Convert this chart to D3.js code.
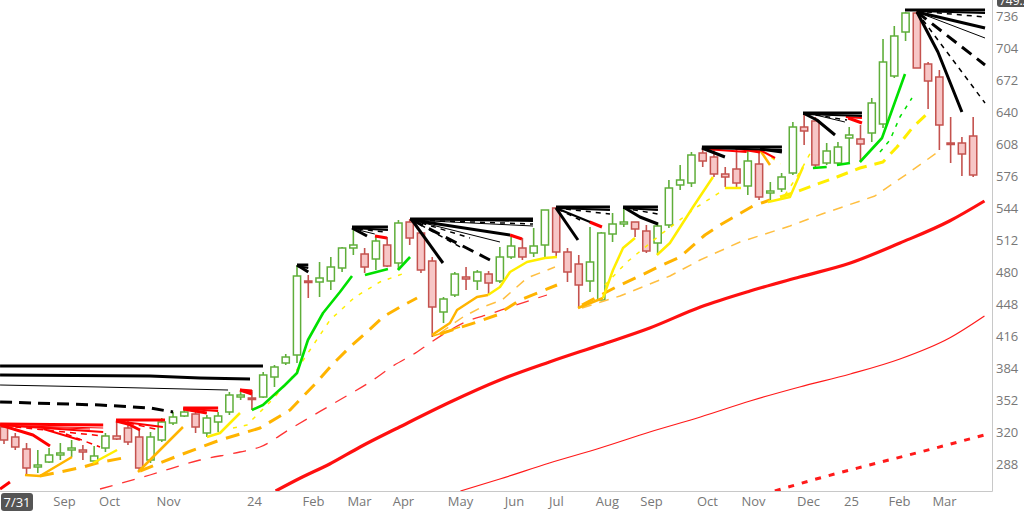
<!DOCTYPE html>
<html><head><meta charset="utf-8">
<script src="https://cdn.jsdelivr.net/npm/d3@7"></script>
<style>body{margin:0;background:#fff;} svg{display:block;font-family:"Open Sans",sans-serif;}</style>
</head><body><svg id="c" width="1024" height="514"></svg>
<script>
// Weekly candles, first week 2023-07-31 (index 0)
const openP  = [325,315,303,285,290,297,302,302,291,304, 316,324,315,292,312,329,336,338,319,330, 340,355,354,355,375,389,397,471,470,471, 484,504,498,493,507,489,530,519,491,440, 457,475,471,478,471,495,504,499,507,544, 500,488,471,452,518,528,530,521,509,527, 567,569,599,595,578,583,566,588,559,563, 579,625,631,589,589,614,613,619,628,676, 720,739,688,675,609,609,616];
const highP  = [328,319,309,302,304,309,312,307,306,319, 332,332,322,320,334,340,344,342,337,340, 360,360,362,380,387,398,487,477,490,495, 505,525,504,515,515,532,533,520,495,455, 480,485,482,481,505,515,514,524,542,545, 504,497,525,520,539,545,530,527,529,572, 587,600,605,602,585,604,602,602,570,579, 630,639,635,609,610,625,627,654,713,726, 740,742,690,682,635,615,635];
const lowP   = [308,302,278,279,289,292,295,292,288,300, 312,307,280,289,310,327,335,319,315,320, 337,352,342,354,365,387,389,454,455,462, 480,497,479,482,485,482,507,479,415,429, 455,462,462,457,469,493,492,495,494,495, 470,444,460,452,510,525,515,499,497,524, 562,565,585,575,565,564,557,552,552,560, 577,607,585,587,587,590,590,610,624,674, 711,684,643,602,589,576,575];
const closeP = [312,305,284,287,297,299,304,300,296,316, 313,310,284,315,330,335,340,325,334,336, 357,357,353,377,385,395,476,470,474,485, 504,507,485,511,486,529,514,482,445,453, 478,473,480,469,495,506,495,506,542,500, 480,467,490,519,528,530,523,501,526,564, 572,597,591,578,575,569,591,555,561,575, 625,621,587,601,605,617,608,649,690,716, 739,684,671,627,608,598,577];

const xTickPos    = [5.32,9.32,14.55,22.18,27.42,31.5,35.4,40.46,45.25,48.98,53.5,57.41,62.38,66.46,71.34,75.16,79.41,83.41];
const xTickLabels = ["Sep","Oct","Nov","24","Feb","Mar","Apr","May","Jun","Jul","Aug","Sep","Oct","Nov","Dec","25","Feb","Mar"];
const yTicks = [736,704,672,640,608,576,544,512,480,448,416,384,352,320,288];
const firstLabel = "7/31";
const lastLabel = "749.2";

// moving averages, [week index, value]
const maRed = [[24.1,261],[26.3,274],[28.9,288],[31.6,305],[35.1,325],[39.6,350],[44.0,372],[48.4,390],[52.9,407],[57.3,424],[61.8,445],[66.2,461],[70.6,475],[75.1,489],[79.5,509],[83.9,531],[87.0,551]];
const maRedThin = [[40.5,261],[44.0,273],[48.4,289],[52.9,304],[57.3,320],[61.8,335],[66.2,351],[70.6,365],[75.1,378],[79.5,393],[83.9,414],[87.0,436]];
const maRedDot = [[68.4,261],[72.4,274],[76.8,287],[81.3,300],[87.0,317]];
const maRedDash = [[8.52,263],[12.95,277],[17.39,292],[20.94,300],[22.72,305],[25.38,323],[30.08,354],[32.48,370],[34.52,386],[36.65,400],[37.80,409],[41.35,432],[43.12,438],[44.9,445],[48.18,457]];

// fan lines from swing highs
const fanBlackThick = [
 [[-0.35,386],[22.98,386]],[[-0.35,377],[12.95,376],[17.39,374],[21.83,373]],
 [[26.0,487],[27.0,487]],[[26.0,487],[27.0,480]],
 [[30.88,525],[34.07,525]],[[30.88,524],[32.21,516]],
 [[36.03,533],[46.94,533]],[[36.2,532],[44.9,517]],[[36.2,532],[38.95,489]],
 [[48.98,545],[53.77,545]],[[48.98,544],[50.93,512]],
 [[54.93,545],[58.03,545]],[[55.1,544],[56.43,535],[58.03,528]],
 [[61.93,605],[69.03,605]],[[61.93,604],[63.97,595]],[[67.08,603],[69.03,600]],
 [[70.9,639],[76.13,639]],[[71.08,638],[72.13,632],[73.74,617]],
 [[79.95,742],[87.05,742]],[[81.01,740],[87.05,724]],[[81.01,740],[82.87,700],[85.0,640]]];
const fanBlackMed = [
 [[26.0,486],[27.0,484]],[[30.88,524],[34.07,522]],[[36.03,533],[46.94,531]],
 [[48.98,544],[53.77,542]],[[48.98,544],[52.0,530]],[[54.93,544],[58.03,542]],
 [[61.93,604],[69.03,602]],[[70.9,638],[76.13,636]],[[81.01,741],[87.05,739]]];
const fanBlackThin = [
 [[-0.35,367],[8.52,365],[19.88,362]],[[31.1,523],[32.9,518]],[[36.03,532],[46.94,526]],
 [[36.2,532],[44.01,510]],[[72.4,636],[74.62,630]],[[81.01,740],[87.05,714]]];
const fanBlackDash = [
 [[-0.35,350],[8.52,347],[12.95,344],[15.0,340]],[[36.2,532],[43.12,492]],[[81.01,740],[87.05,687]]];
const fanBlackDashThin = [
 [[31.4,523],[33.8,520]],[[36.03,532],[46.94,528]],[[36.2,532],[41.35,514]],[[36.2,532],[40.64,504]],
 [[48.98,544],[53.77,538]],[[49.15,543],[51.11,532]],[[54.93,544],[58.03,538]],
 [[72.0,637],[74.8,632]],[[81.01,741],[87.05,735]],[[81.01,740],[87.05,649]]];
const fanRedThick = [
 [[-0.35,328],[8.8,327]],[[-0.35,327],[2.57,317],[4.08,306]],
 [[9.94,332],[14.29,332]],[[9.94,331],[11.0,328],[12.07,322]],
 [[15.9,344],[19.0,344]],[[15.9,343],[18.0,339]],
 [[20.94,362],[22.0,361]],[[20.94,362],[22.0,358]],
 [[32.92,516],[33.98,514]],[[44.9,517],[45.96,513]],[[51.97,530],[53.06,525]],
 [[64.9,604],[67.08,600]],[[74.9,634],[76.13,629]],[[-0.35,263],[0.53,270]]];
const fanRedMed = [
 [[-0.35,327],[8.8,320]],[[3.5,323],[6.74,312]],[[9.94,331],[14.1,325]],[[16.5,343],[19.0,341]],
 [[62.2,603],[65.9,600]],[[67.08,602],[68.42,594]],[[74.7,635],[76.13,634]]];
const fanRedThin = [[[0.5,326],[7.63,323]],[[1.5,326],[8.8,324]]];
const fanRedDash = [[[1,325],[8.8,316]],[[5.5,318],[8.52,305]],[[11,329],[13.84,322]]];

// rising lines from swing lows
const riseGreen = [
 [[22.0,342],[22.98,347],[24.93,367],[26.0,379],[26.97,412],[28.31,439],[29.81,460],[30.88,476]],
 [[32.03,477],[34.07,483]],[[34.96,482],[36.03,495]],
 [[71.78,584],[73.0,585]],[[73.91,587],[75.07,589]],[[75.95,590],[77.91,614],[79.95,678]]];
const riseGreenDash = [[[77.73,600],[78.62,612],[79.5,635],[80.57,654]]];
const riseYellow = [
 [[7.90,289],[10.03,302]],[[18.01,315],[19.17,319],[20.94,339]],
 [[42.95,457],[44.01,465],[44.90,480],[46.41,490],[48.0,494],[49.07,495]],
 [[53.15,454],[54.04,482],[54.93,504],[55.99,514]],
 [[57.94,497],[59.09,509],[61.14,545],[62.91,575]],
 [[63.97,564],[65.40,564]],[[67.79,550],[69.74,555],[70.90,585]]];
const riseYellowDash = [[[68.86,555],[70.01,559],[73.91,575],[75.95,584],[77.99,590],[79.24,605],[80.66,625],[81.99,639]]];
const riseYellowDashThin = [
 [[20.32,324],[21.56,327],[22.72,340],[23.78,352],[25.38,372],[27.15,402],[28.93,432],[31.15,455],[33.36,470],[35.32,478]],
 [[53.33,467],[55.28,490],[58.21,517],[61.49,545],[63.71,561]],
 [[69.3,557],[70.63,580],[71.7,602]],[[67.3,601],[68.9,588]]];
const riseOrange = [
 [[1.86,277],[3.19,276],[6.03,295]],[[11.89,280],[13.84,302],[15.88,325]],
 [[37.98,417],[39.57,429],[40.20,442],[41.97,455],[42.95,457]],
 [[50.93,444],[53.15,454]],[[67.08,602],[67.97,587]]];
const riseOrangeThin = [[[38.07,416],[40.46,425]]];
const riseOrangeDash = [
 [[3.19,276],[4.97,280],[7.01,285],[8.25,289],[10.56,294]],
 [[12.07,281],[15.62,297],[19.17,312],[22.72,324],[25.38,342],[27.77,370],[29.10,387],[30.70,405],[32.21,420],[33.63,435],[35.14,445],[36.65,454]],
 [[38.69,418],[41.97,430],[43.74,437],[45.79,452],[49.07,467]],
 [[51.29,447],[54.48,466],[56.61,477],[58.21,486],[59.98,495],[62.20,517],[63.53,527],[66.46,546],[67.97,552]]];
const riseOrangeDashThin = [
 [[38.69,419],[40.73,435],[42.24,444],[44.19,452],[46.41,474],[48.89,485]],
 [[51.29,444],[54.66,456],[59.09,476],[61.76,492],[65.31,510],[69.74,526],[72.58,538],[77.28,556],[80.12,578],[82.87,600]]];

// ---------- drawing ----------
const W = 1024, H = 514, PR = 992, PB = 491;
const svg = d3.select("#c");
const x = d3.scaleLinear().domain([-0.355, 87.67]).range([0, PR]);
const y = d3.scaleLinear().domain([261, 752]).range([PB, 0]);

svg.append("defs").append("clipPath").attr("id","pc").append("rect").attr("x",0).attr("y",0).attr("width",PR).attr("height",PB);
const plot = svg.append("g").attr("clip-path","url(#pc)");

const lineLin = d3.line().x(d=>x(d[0])).y(d=>y(d[1]));
const lineSm = d3.line().x(d=>x(d[0])).y(d=>y(d[1])).curve(d3.curveMonotoneX);

function drawSet(sets, color, width, dash, gen){
  plot.append("g").selectAll("path").data(sets).join("path")
    .attr("d", gen || lineLin).attr("fill","none").attr("stroke",color)
    .attr("stroke-width",width).attr("stroke-dasharray",dash||null)
    .attr("stroke-linejoin","round");
}

// MAs
drawSet([maRedThin], "#ff1a1a", 1.2, null, lineSm);
drawSet([maRedDot], "#ff1a1a", 3, "6,8", lineSm);
drawSet([maRedDash], "#ff3333", 1.3, "13,10", lineSm);
drawSet([maRed], "#ff1010", 3.2, null, lineSm);

// candles
const idx = d3.range(openP.length);
const GS = "#5fae3a", GF = "#ffffff", RS = "#c4524e", RF = "#f7c6c6";
const cg = plot.append("g");
cg.selectAll("line").data(idx).join("line")
  .attr("x1",i=>x(i)).attr("x2",i=>x(i))
  .attr("y1",i=>y(highP[i])).attr("y2",i=>y(lowP[i]))
  .attr("stroke",i=>closeP[i]>=openP[i]?GS:RS).attr("stroke-width",1.6);
cg.selectAll("rect").data(idx).join("rect")
  .attr("x",i=>x(i)-3.6).attr("width",7.2)
  .attr("y",i=>y(Math.max(openP[i],closeP[i])))
  .attr("height",i=>Math.max(1.5, Math.abs(y(openP[i])-y(closeP[i]))))
  .attr("fill",i=>closeP[i]>=openP[i]?GF:RF)
  .attr("stroke",i=>closeP[i]>=openP[i]?GS:RS).attr("stroke-width",1.5);

// rising lines
const YEL="#ffee00", ORG="#ffb400", GRN="#00e000";
drawSet(riseOrangeDashThin, "#ffbf40", 1.5, "10,8");
drawSet(riseOrangeDash, ORG, 3, "14,9");
drawSet(riseYellowDashThin, YEL, 1.5, "4,7");
drawSet(riseYellowDash, YEL, 3, "12,8");
drawSet(riseOrangeThin, ORG, 1.5);
drawSet(riseOrange, ORG, 2.5);
drawSet(riseYellow, YEL, 2.5);
drawSet(riseGreenDash, GRN, 1.5, "4,6");
drawSet(riseGreen, GRN, 2.6);

// fans
const RED="#ff0000";
drawSet(fanRedDash, RED, 1.5, "6,5");
drawSet(fanRedThin, RED, 1);
drawSet(fanRedMed, RED, 2);
drawSet(fanRedThick, RED, 3);
drawSet(fanBlackDashThin, "#000", 1.5, "5,5");
drawSet(fanBlackDash, "#000", 3, "12,7");
drawSet(fanBlackThin, "#000", 1);
drawSet(fanBlackMed, "#000", 2);
drawSet(fanBlackThick, "#000", 3);

// frame
svg.append("line").attr("x1",PR+0.5).attr("x2",PR+0.5).attr("y1",0).attr("y2",PB+0.5).attr("stroke","#c8c8c8");
svg.append("line").attr("x1",0).attr("x2",PR+0.5).attr("y1",PB+0.5).attr("y2",PB+0.5).attr("stroke","#c8c8c8");

// axes
const ay = svg.append("g").attr("transform",`translate(${PR},0)`)
  .call(d3.axisRight(y).tickValues(yTicks).tickSize(0).tickPadding(4));
ay.select(".domain").remove();
ay.selectAll("text").attr("fill","#777").style("font-size","13px").style("font-family","'Open Sans',sans-serif");

const ax = svg.append("g").attr("transform",`translate(0,${PB})`)
  .call(d3.axisBottom(x).tickValues(xTickPos).tickFormat((d,i)=>xTickLabels[i]).tickSize(0).tickPadding(6));
ax.select(".domain").remove();
ax.selectAll("text").attr("fill","#777").style("font-size","13px").style("font-family","'Open Sans',sans-serif");

// first date badge
svg.append("rect").attr("x",1).attr("y",493).attr("width",32).attr("height",18).attr("rx",3).attr("fill","#555");
svg.append("text").attr("x",17).attr("y",507).attr("text-anchor","middle").attr("fill","#fff")
  .style("font-size","13px").text(firstLabel);
// last value badge (cut at top, as in the source)
svg.append("rect").attr("x",997).attr("y",-10).attr("width",32).attr("height",17).attr("rx",3).attr("fill","#555");
svg.append("text").attr("x",999).attr("y",5).attr("fill","#fff").style("font-size","12px").text(lastLabel);
</script></body></html>
